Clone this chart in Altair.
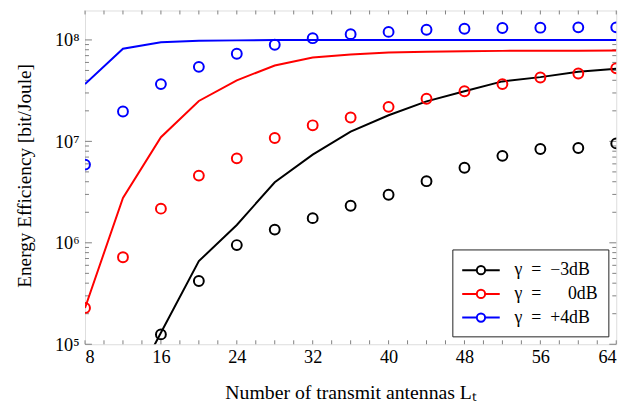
import altair as alt
import pandas as pd

# ---- data ----
antennas = [8, 12, 16, 20, 24, 28, 32, 36, 40, 44, 48, 52, 56, 60, 64]
series = ["γ\u2002=\u2002−3dB", "γ\u2002=\u2002\u2002\u20070dB", "γ\u2002=\u2002+4dB"]
colors = ["#000000", "#ff0000", "#0000ff"]

# analytic curves (lines)
line_m3 = [None, 2.5e4, 1.3e5, 6.6e5, 1.5e6, 3.95e6, 7.4e6, 1.25e7, 1.81e7, 2.48e7, 3.12e7, 3.9e7, 4.3e7, 4.85e7, 5.2e7]
line_0 = [2.28e5, 2.77e6, 1.1e7, 2.5e7, 4.0e7, 5.6e7, 6.7e7, 7.2e7, 7.5e7, 7.65e7, 7.75e7, 7.8e7, 7.82e7, 7.83e7, 7.85e7]
line_p4 = [3.67e7, 8.2e7, 9.5e7, 9.8e7, 9.9e7, 1.0e8, 1.0e8, 1.0e8, 1.0e8, 1.0e8, 1.0e8, 1.0e8, 1.0e8, 1.0e8, 1.0e8]

# simulated points (circles)
pts_m3 = [None, None, 1.25e5, 4.2e5, 9.5e5, 1.35e6, 1.75e6, 2.32e6, 2.98e6, 4.05e6, 5.5e6, 7.2e6, 8.4e6, 8.6e6, 9.55e6]
pts_0 = [2.28e5, 7.2e5, 2.17e6, 4.6e6, 6.8e6, 1.08e7, 1.44e7, 1.72e7, 2.19e7, 2.63e7, 3.12e7, 3.67e7, 4.26e7, 4.67e7, 5.25e7]
pts_p4 = [5.9e6, 1.97e7, 3.67e7, 5.43e7, 7.3e7, 8.97e7, 1.04e8, 1.14e8, 1.2e8, 1.26e8, 1.29e8, 1.31e8, 1.32e8, 1.33e8, 1.33e8]

x_ticks = [8, 16, 24, 32, 40, 48, 56, 64]
x_minor = list(range(8, 65, 2))
y_ticks = [1e5, 1e6, 1e7, 1e8]
y_minor = [m * 10 ** e for e in range(5, 9) for m in range(2, 10) if m * 10 ** e < 1.95e8]
y_domain = [1e5, 1.95e8]
x_domain = [8, 64]

W, H = 538, 338
FONT = "Liberation Serif"

rows_l, rows_p = [], []
for s, ln, pt in zip(series, [line_m3, line_0, line_p4], [pts_m3, pts_0, pts_p4]):
    for a, lv, pv in zip(antennas, ln, pt):
        if lv is not None:
            rows_l.append({"L": a, "EE": lv, "series": s})
        if pv is not None:
            rows_p.append({"L": a, "EE": pv, "series": s})
df_l = pd.DataFrame(rows_l)
df_p = pd.DataFrame(rows_p)

xs = alt.Scale(domain=x_domain, nice=False, zero=False)
ys = alt.Scale(type="log", domain=y_domain, nice=False)
cs = alt.Scale(domain=series, range=colors)

sym = "M-1.9,0H-0.42M0.42,0H1.9M0.42,0A0.42,0.42,0,1,1,-0.42,0A0.42,0.42,0,1,1,0.42,0"

lines = alt.Chart(df_l).mark_line(clip=True, strokeWidth=2).encode(
    x=alt.X("L:Q", scale=xs, axis=alt.Axis(
        values=x_ticks, ticks=False, domain=False, grid=False,
        labelFont=FONT, labelFontSize=18.5, labelColor="#000", labelPadding=3,
        title="Number of transmit antennas Lₜ", titleFont=FONT, titleFontSize=20,
        titleFontWeight="normal", titleColor="#000", titleY=49, titleBaseline="middle")),
    y=alt.Y("EE:Q", scale=ys, axis=alt.Axis(
        values=y_ticks, ticks=False, domain=False, grid=False,
        labelExpr="datum.value >= 1e8 ? '10⁸' : datum.value >= 1e7 ? '10⁷' : datum.value >= 1e6 ? '10⁶' : '10⁵'",
        labelFont=FONT, labelFontSize=18.5, labelColor="#000", labelPadding=6,
        title="Energy Efficiency [bit/Joule]", titleFont=FONT, titleFontSize=19.5,
        titleFontWeight="normal", titleColor="#000", titleX=-61, titleY=167,
        titleBaseline="middle")),
    color=alt.Color("series:N", scale=cs, sort=series, legend=alt.Legend(
        title=None, orient="bottom-right", offset=8, symbolType=sym, symbolSize=400,
        symbolStrokeWidth=2, symbolFillColor="white", symbolOffset=8,
        labelFont=FONT, labelFontSize=18, labelColor="#000", labelOffset=23,
        strokeColor="#222", fillColor="white", padding=10,
        rowPadding=4, cornerRadius=0)),
)

points = alt.Chart(df_p).mark_point(shape="circle", filled=False, size=100, strokeWidth=2,
                                     opacity=1, clip=True).encode(
    x=alt.X("L:Q", scale=xs),
    y=alt.Y("EE:Q", scale=ys),
    color=alt.Color("series:N", scale=cs, legend=None),
)

df_xt = pd.DataFrame({"v": x_minor})
df_yt = pd.DataFrame({"v": y_minor})
df_ym = pd.DataFrame({"v": y_ticks})
tc = "#808080"
xt_bot = alt.Chart(df_xt).mark_rule(color=tc, strokeWidth=1).encode(
    x=alt.X("v:Q", scale=xs), y=alt.value(H), y2=alt.value(H - 4))
xt_top = alt.Chart(df_xt).mark_rule(color=tc, strokeWidth=1).encode(
    x=alt.X("v:Q", scale=xs), y=alt.value(0), y2=alt.value(4))
yt_left = alt.Chart(df_yt).mark_rule(color=tc, strokeWidth=1).encode(
    y=alt.Y("v:Q", scale=ys), x=alt.value(0), x2=alt.value(4))
yt_right = alt.Chart(df_yt).mark_rule(color=tc, strokeWidth=1).encode(
    y=alt.Y("v:Q", scale=ys), x=alt.value(W), x2=alt.value(W - 4))
ym_left = alt.Chart(df_ym).mark_rule(color=tc, strokeWidth=1).encode(
    y=alt.Y("v:Q", scale=ys), x=alt.value(0), x2=alt.value(7))
ym_right = alt.Chart(df_ym).mark_rule(color=tc, strokeWidth=1).encode(
    y=alt.Y("v:Q", scale=ys), x=alt.value(W), x2=alt.value(W - 7))

chart = alt.layer(
    xt_bot, xt_top, yt_left, yt_right, ym_left, ym_right, lines, points
).properties(
    width=W, height=H,
    autosize=alt.AutoSizeParams(type="none"),
    padding={"left": 78, "top": 0, "right": 20, "bottom": 60},
).configure_view(stroke="#333333", strokeWidth=1.2).configure(background="white")

chart.save("out.html", embed_options={"renderer": "svg", "actions": False})
